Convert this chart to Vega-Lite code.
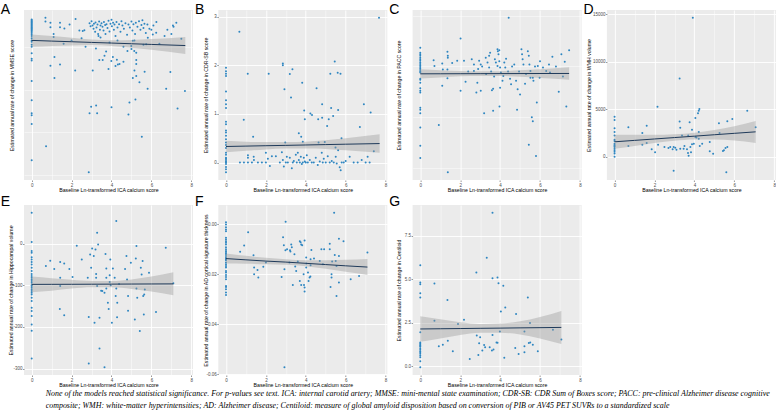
{
 "$schema": "https://vega.github.io/schema/vega-lite/v6.json",
 "padding": {"left": 0, "top": 3, "right": 0, "bottom": 0},
 "background": "white",
 "config": {
  "view": {"fill": "#EBEBEB", "stroke": null},
  "axis": {"domain": false, "grid": true, "gridColor": "#FFFFFF", "tickColor": "#333333", "tickSize": 1.5, "tickWidth": 0.5, "labelFont": "Liberation Sans", "labelFontSize": 4.5, "labelColor": "#4D4D4D", "labelPadding": 0.5, "titleFont": "Liberation Sans", "titleFontSize": 5.2, "titleFontWeight": "normal", "titleColor": "#000000", "labelFlush": false, "labelOverlap": false, "titlePadding": 1},
  "title": {"anchor": "start", "frame": "group", "font": "Liberation Sans", "fontSize": 14, "fontWeight": "normal", "color": "#000000", "offset": 0, "baseline": "alphabetic", "dx": -23.3, "dy": 8}
 },
 "title": {"text": ["None of the models reached statistical significance. For p-values see text. ICA: internal carotid artery; MMSE: mini-mental state examination; CDR-SB: CDR Sum of Boxes score; PACC: pre-clinical Alzheimer disease cognitive", "composite; WMH: white-matter hyperintensities; AD: Alzheimer disease; Centiloid: measure of global amyloid disposition based on conversion of PIB or AV45 PET SUVRs to a standardized scale"], "orient": "bottom", "anchor": "start", "frame": "bounds", "font": "Liberation Serif", "fontStyle": "italic", "fontSize": 7.95, "fontWeight": "normal", "color": "#000000", "lineHeight": 12, "baseline": "top", "offset": 2, "dx": 45, "dy": 0},
 "spacing": 2,
 "vconcat": [
  {"hconcat": [
   {"width": 169, "height": 170, "title": {"text": "A", "dy": 11},
    "encoding": {"x": {"field": "x", "type": "quantitative", "scale": {"domain": [-0.385, 8.085], "nice": false, "zero": false}, "axis": {"values": [0,1,2,3,4,5,6,7,8], "title": "Baseline Ln-transformed ICA calcium score", "labelExpr": "round(datum.value)%2==0 ? datum.label : ''", "gridWidth": {"condition": {"test": "round(datum.value)%2!=0", "value": 0.45}, "value": 0.9}, "tickOpacity": {"condition": {"test": "round(datum.value)%2!=0", "value": 0}, "value": 1}}}},
    "layer": [
     {"data": {"name": "a"}, "mark": {"type": "circle", "size": 4, "color": "#2E86C1", "opacity": 1}, "encoding": {"y": {"field": "y", "type": "quantitative", "scale": {"domain": [-3.61, 0.36], "nice": false, "zero": false}, "axis": {"values": [-3.5,-3,-2.5,-2,-1.5,-1,-0.5,0], "title": "Estimated annual rate of change in MMSE score", "minExtent": 8.8, "maxExtent": 8.8, "labelExpr": "round(datum.value*2)%2==0 ? replace(format(datum.value,'d'),'\u2212','-') : ''", "gridWidth": {"condition": {"test": "round(datum.value*2)%2!=0", "value": 0.45}, "value": 0.9}, "tickOpacity": {"condition": {"test": "round(datum.value*2)%2!=0", "value": 0}, "value": 1}}}}},
     {"data": {"name": "aB"}, "mark": {"type": "area", "color": "#999999", "opacity": 0.4, "interpolate": "monotone"}, "encoding": {"y": {"field": "lo", "type": "quantitative", "scale": {"domain": [-3.61, 0.36], "nice": false, "zero": false}}, "y2": {"field": "hi"}}},
     {"data": {"name": "aB"}, "mark": {"type": "line", "color": "#1F3A5A", "strokeWidth": 1, "interpolate": "monotone"}, "encoding": {"y": {"field": "fit", "type": "quantitative", "scale": {"domain": [-3.61, 0.36], "nice": false, "zero": false}}}}
    ]},
   {"width": 169, "height": 170, "title": {"text": "B", "dy": 11},
    "encoding": {"x": {"field": "x", "type": "quantitative", "scale": {"domain": [-0.385, 8.085], "nice": false, "zero": false}, "axis": {"values": [0,1,2,3,4,5,6,7,8], "title": "Baseline Ln-transformed ICA calcium score", "labelExpr": "round(datum.value)%2==0 ? datum.label : ''", "gridWidth": {"condition": {"test": "round(datum.value)%2!=0", "value": 0.45}, "value": 0.9}, "tickOpacity": {"condition": {"test": "round(datum.value)%2!=0", "value": 0}, "value": 1}}}},
    "layer": [
     {"data": {"name": "b"}, "mark": {"type": "circle", "size": 4, "color": "#2E86C1", "opacity": 1}, "encoding": {"y": {"field": "y", "type": "quantitative", "scale": {"domain": [-0.36, 3.14], "nice": false, "zero": false}, "axis": {"values": [0,0.5,1,1.5,2,2.5,3], "title": "Estimated annual rate of change in CDR-SB score", "minExtent": 8.8, "maxExtent": 8.8, "labelExpr": "round(datum.value*2)%2==0 ? format(datum.value,'d') : ''", "gridWidth": {"condition": {"test": "round(datum.value*2)%2!=0", "value": 0.45}, "value": 0.9}, "tickOpacity": {"condition": {"test": "round(datum.value*2)%2!=0", "value": 0}, "value": 1}}}}},
     {"data": {"name": "bB"}, "mark": {"type": "area", "color": "#999999", "opacity": 0.4, "interpolate": "monotone"}, "encoding": {"y": {"field": "lo", "type": "quantitative", "scale": {"domain": [-0.36, 3.14], "nice": false, "zero": false}}, "y2": {"field": "hi"}}},
     {"data": {"name": "bB"}, "mark": {"type": "line", "color": "#1F3A5A", "strokeWidth": 1, "interpolate": "monotone"}, "encoding": {"y": {"field": "fit", "type": "quantitative", "scale": {"domain": [-0.36, 3.14], "nice": false, "zero": false}}}}
    ]},
   {"width": 169, "height": 170, "title": {"text": "C", "dy": 11},
    "encoding": {"x": {"field": "x", "type": "quantitative", "scale": {"domain": [-0.385, 8.085], "nice": false, "zero": false}, "axis": {"values": [0,1,2,3,4,5,6,7,8], "title": "Baseline Ln-transformed ICA calcium score", "labelExpr": "round(datum.value)%2==0 ? datum.label : ''", "gridWidth": {"condition": {"test": "round(datum.value)%2!=0", "value": 0.45}, "value": 0.9}, "tickOpacity": {"condition": {"test": "round(datum.value)%2!=0", "value": 0}, "value": 1}}}},
    "layer": [
     {"data": {"name": "c"}, "mark": {"type": "circle", "size": 4, "color": "#2E86C1", "opacity": 1}, "encoding": {"y": {"field": "y", "type": "quantitative", "scale": {"domain": [-0.2733, 0.061], "nice": false, "zero": false}, "axis": {"values": [-0.25,-0.2,-0.15,-0.1,-0.05,0,0.05], "title": "Estimated annual rate of change in PACC score", "minExtent": 10.2, "maxExtent": 10.2, "labelExpr": "round(datum.value*20)%2==0 ? replace(format(datum.value,'.1f'),'\u2212','-') : ''", "gridWidth": {"condition": {"test": "round(datum.value*20)%2!=0", "value": 0.45}, "value": 0.9}, "tickOpacity": {"condition": {"test": "round(datum.value*20)%2!=0", "value": 0}, "value": 1}}}}},
     {"data": {"name": "cB"}, "mark": {"type": "area", "color": "#999999", "opacity": 0.4, "interpolate": "monotone"}, "encoding": {"y": {"field": "lo", "type": "quantitative", "scale": {"domain": [-0.2733, 0.061], "nice": false, "zero": false}}, "y2": {"field": "hi"}}},
     {"data": {"name": "cB"}, "mark": {"type": "line", "color": "#1F3A5A", "strokeWidth": 1, "interpolate": "monotone"}, "encoding": {"y": {"field": "fit", "type": "quantitative", "scale": {"domain": [-0.2733, 0.061], "nice": false, "zero": false}}}}
    ]},
   {"width": 169, "height": 170, "title": {"text": "D", "dy": 11},
    "encoding": {"x": {"field": "x", "type": "quantitative", "scale": {"domain": [-0.385, 8.085], "nice": false, "zero": false}, "axis": {"values": [0,1,2,3,4,5,6,7,8], "title": "Baseline Ln-transformed ICA calcium score", "labelExpr": "round(datum.value)%2==0 ? datum.label : ''", "gridWidth": {"condition": {"test": "round(datum.value)%2!=0", "value": 0.45}, "value": 0.9}, "tickOpacity": {"condition": {"test": "round(datum.value)%2!=0", "value": 0}, "value": 1}}}},
    "layer": [
     {"data": {"name": "d"}, "mark": {"type": "circle", "size": 4, "color": "#2E86C1", "opacity": 1}, "encoding": {"y": {"field": "y", "type": "quantitative", "scale": {"domain": [-2474, 15434], "nice": false, "zero": false}, "axis": {"values": [0,2500,5000,7500,10000,12500,15000], "title": "Estimated annual rate of change in WMH volume", "minExtent": 14.5, "maxExtent": 14.5, "labelExpr": "round(datum.value/2500)%2==0 ? format(datum.value,'d') : ''", "gridWidth": {"condition": {"test": "round(datum.value/2500)%2!=0", "value": 0.45}, "value": 0.9}, "tickOpacity": {"condition": {"test": "round(datum.value/2500)%2!=0", "value": 0}, "value": 1}}}}},
     {"data": {"name": "dB"}, "mark": {"type": "area", "color": "#999999", "opacity": 0.4, "interpolate": "monotone"}, "encoding": {"y": {"field": "lo", "type": "quantitative", "scale": {"domain": [-2474, 15434], "nice": false, "zero": false}}, "y2": {"field": "hi"}}},
     {"data": {"name": "dB"}, "mark": {"type": "line", "color": "#1F3A5A", "strokeWidth": 1, "interpolate": "monotone"}, "encoding": {"y": {"field": "fit", "type": "quantitative", "scale": {"domain": [-2474, 15434], "nice": false, "zero": false}}}}
    ]}
  ], "spacing": 25.3, "bounds": "flush"},
  {"hconcat": [
   {"width": 169, "height": 170, "title": {"text": "E"},
    "encoding": {"x": {"field": "x", "type": "quantitative", "scale": {"domain": [-0.385, 8.085], "nice": false, "zero": false}, "axis": {"values": [0,1,2,3,4,5,6,7,8], "title": "Baseline Ln-transformed ICA calcium score", "labelExpr": "round(datum.value)%2==0 ? datum.label : ''", "gridWidth": {"condition": {"test": "round(datum.value)%2!=0", "value": 0.45}, "value": 0.9}, "tickOpacity": {"condition": {"test": "round(datum.value)%2!=0", "value": 0}, "value": 1}}}},
    "layer": [
     {"data": {"name": "e"}, "mark": {"type": "circle", "size": 4, "color": "#2E86C1", "opacity": 1}, "encoding": {"y": {"field": "y", "type": "quantitative", "scale": {"domain": [-315.5, 92.5], "nice": false, "zero": false}, "axis": {"values": [-300,-250,-200,-150,-100,-50,0,50], "title": "Estimated annual rate of change in Hippocampal volume", "minExtent": 9.5, "maxExtent": 9.5, "labelExpr": "round(datum.value/50)%2==0 ? replace(format(datum.value,'d'),'\u2212','-') : ''", "gridWidth": {"condition": {"test": "round(datum.value/50)%2!=0", "value": 0.45}, "value": 0.9}, "tickOpacity": {"condition": {"test": "round(datum.value/50)%2!=0", "value": 0}, "value": 1}}}}},
     {"data": {"name": "eB"}, "mark": {"type": "area", "color": "#999999", "opacity": 0.4, "interpolate": "monotone"}, "encoding": {"y": {"field": "lo", "type": "quantitative", "scale": {"domain": [-315.5, 92.5], "nice": false, "zero": false}}, "y2": {"field": "hi"}}},
     {"data": {"name": "eB"}, "mark": {"type": "line", "color": "#1F3A5A", "strokeWidth": 1, "interpolate": "monotone"}, "encoding": {"y": {"field": "fit", "type": "quantitative", "scale": {"domain": [-315.5, 92.5], "nice": false, "zero": false}}}}
    ]},
   {"width": 169, "height": 170, "title": {"text": "F"},
    "encoding": {"x": {"field": "x", "type": "quantitative", "scale": {"domain": [-0.385, 8.085], "nice": false, "zero": false}, "axis": {"values": [0,1,2,3,4,5,6,7,8], "title": "Baseline Ln-transformed ICA calcium score", "labelExpr": "round(datum.value)%2==0 ? datum.label : ''", "gridWidth": {"condition": {"test": "round(datum.value)%2!=0", "value": 0.45}, "value": 0.9}, "tickOpacity": {"condition": {"test": "round(datum.value)%2!=0", "value": 0}, "value": 1}}}},
    "layer": [
     {"data": {"name": "f"}, "mark": {"type": "circle", "size": 4, "color": "#2E86C1", "opacity": 1}, "encoding": {"y": {"field": "y", "type": "quantitative", "scale": {"domain": [-0.0604, 0.0078], "nice": false, "zero": false}, "axis": {"values": [-0.06,-0.05,-0.04,-0.03,-0.02,-0.01,0], "title": "Estimated annual rate of change in AD cortical signature thickness", "minExtent": 9.1, "maxExtent": 9.1, "labelExpr": "round(datum.value*100)%2==0 ? replace(format(datum.value,'.2f'),'\u2212','-') : ''", "gridWidth": {"condition": {"test": "round(datum.value*100)%2!=0", "value": 0.45}, "value": 0.9}, "tickOpacity": {"condition": {"test": "round(datum.value*100)%2!=0", "value": 0}, "value": 1}}}}},
     {"data": {"name": "fB"}, "mark": {"type": "area", "color": "#999999", "opacity": 0.4, "interpolate": "monotone"}, "encoding": {"y": {"field": "lo", "type": "quantitative", "scale": {"domain": [-0.0604, 0.0078], "nice": false, "zero": false}}, "y2": {"field": "hi"}}},
     {"data": {"name": "fB"}, "mark": {"type": "line", "color": "#1F3A5A", "strokeWidth": 1, "interpolate": "monotone"}, "encoding": {"y": {"field": "fit", "type": "quantitative", "scale": {"domain": [-0.0604, 0.0078], "nice": false, "zero": false}}}}
    ]},
   {"width": 169, "height": 170, "title": {"text": "G"},
    "encoding": {"x": {"field": "x", "type": "quantitative", "scale": {"domain": [-0.385, 8.085], "nice": false, "zero": false}, "axis": {"values": [0,1,2,3,4,5,6,7,8], "title": "Baseline Ln-transformed ICA calcium score", "labelExpr": "round(datum.value)%2==0 ? datum.label : ''", "gridWidth": {"condition": {"test": "round(datum.value)%2!=0", "value": 0.45}, "value": 0.9}, "tickOpacity": {"condition": {"test": "round(datum.value)%2!=0", "value": 0}, "value": 1}}}},
    "layer": [
     {"data": {"name": "g"}, "mark": {"type": "circle", "size": 4, "color": "#2E86C1", "opacity": 1}, "encoding": {"y": {"field": "y", "type": "quantitative", "scale": {"domain": [-0.504, 9.264], "nice": false, "zero": false}, "axis": {"values": [0,1.25,2.5,3.75,5,6.25,7.5,8.75], "title": "Estimated annual rate of change in Centiloid", "minExtent": 10.2, "maxExtent": 10.2, "labelExpr": "round(datum.value/1.25)%2==0 ? format(datum.value,'.1f') : ''", "gridWidth": {"condition": {"test": "round(datum.value/1.25)%2!=0", "value": 0.45}, "value": 0.9}, "tickOpacity": {"condition": {"test": "round(datum.value/1.25)%2!=0", "value": 0}, "value": 1}}}}},
     {"data": {"name": "gB"}, "mark": {"type": "area", "color": "#999999", "opacity": 0.4, "interpolate": "monotone"}, "encoding": {"y": {"field": "lo", "type": "quantitative", "scale": {"domain": [-0.504, 9.264], "nice": false, "zero": false}}, "y2": {"field": "hi"}}},
     {"data": {"name": "gB"}, "mark": {"type": "line", "color": "#1F3A5A", "strokeWidth": 1, "interpolate": "monotone"}, "encoding": {"y": {"field": "fit", "type": "quantitative", "scale": {"domain": [-0.504, 9.264], "nice": false, "zero": false}}}}
    ]}
  ], "spacing": 25.3, "bounds": "flush"}
 ],
 "datasets": {
  "a": [{"x":0,"y":0.14},{"x":0,"y":0.12},{"x":0,"y":0.1},{"x":0,"y":0.08},{"x":0,"y":0.06},{"x":0,"y":0.04},{"x":0,"y":0.02},{"x":0,"y":0},{"x":0,"y":-0.02},{"x":0,"y":-0.04},{"x":0,"y":-0.06},{"x":0,"y":-0.08},{"x":0,"y":-0.1},{"x":0,"y":-0.12},{"x":0,"y":-0.15},{"x":0,"y":-0.18},{"x":0,"y":-0.21},{"x":0,"y":-0.25},{"x":0,"y":-0.3},{"x":0,"y":-0.35},{"x":0,"y":-0.38},{"x":0,"y":-0.45},{"x":0,"y":-0.5},{"x":0,"y":-0.65},{"x":0,"y":-0.78},{"x":0,"y":-0.82},{"x":0,"y":-1.3},{"x":0,"y":-1.75},{"x":0,"y":-2.05},{"x":0,"y":-2.1},{"x":0,"y":-2.3},{"x":0,"y":-3.15},
   {"x":0.69,"y":0.18},{"x":0.69,"y":0.09},{"x":0.94,"y":0.06},{"x":0.94,"y":-0.04},{"x":1.42,"y":0.06},{"x":1.42,"y":-0.04},{"x":1.64,"y":-0.07},{"x":2.2,"y":0.15},{"x":1.1,"y":-0.2},{"x":1.1,"y":-0.27},{"x":1.14,"y":-0.74},{"x":1.14,"y":-1.23},{"x":1.42,"y":-0.91},{"x":0.94,"y":-0.94},{"x":0.72,"y":-2.82},{"x":2.18,"y":-1.05},{"x":1.9,"y":0.02},{"x":2.0,"y":-0.35},{"x":1.6,"y":-0.43},{"x":2.39,"y":-0.12},{"x":2.56,"y":-0.13},{"x":2.64,"y":-0.11},
   {"x":2.9,"y":0.05},{"x":2.95,"y":-0.02},{"x":3.0,"y":0.1},{"x":3.05,"y":0.0},{"x":3.1,"y":-0.08},{"x":3.12,"y":0.04},{"x":3.18,"y":-0.15},{"x":3.2,"y":0.07},{"x":3.25,"y":-0.05},{"x":3.3,"y":0.02},{"x":3.33,"y":-0.2},{"x":3.38,"y":0.09},{"x":3.42,"y":-0.1},{"x":3.45,"y":0.0},{"x":3.5,"y":0.05},{"x":3.55,"y":-0.03},{"x":3.6,"y":-0.12},{"x":3.62,"y":0.08},{"x":3.68,"y":0.01},{"x":3.7,"y":-0.2},{"x":3.75,"y":0.03},{"x":3.8,"y":-0.06},{"x":3.85,"y":0.11},{"x":3.9,"y":-0.14},{"x":3.95,"y":0.04},{"x":4.0,"y":0.13},{"x":4.02,"y":-0.02},{"x":4.08,"y":0.06},{"x":4.12,"y":-0.1},{"x":4.15,"y":0.02},{"x":4.2,"y":-0.25},{"x":4.25,"y":0.08},{"x":4.3,"y":-0.05},{"x":4.38,"y":0.03},{"x":4.45,"y":-0.15},{"x":4.5,"y":0.1},{"x":4.55,"y":0.0},{"x":4.62,"y":-0.08},{"x":4.7,"y":0.05},{"x":4.78,"y":-0.22},{"x":4.85,"y":0.02},{"x":4.92,"y":-0.05},{"x":5.0,"y":0.09},{"x":5.05,"y":-0.12},{"x":5.1,"y":0.03},{"x":5.18,"y":-0.2},{"x":5.22,"y":0.06},{"x":5.3,"y":-0.03},{"x":5.38,"y":0.1},{"x":5.45,"y":-0.1},{"x":5.5,"y":0.01},{"x":5.55,"y":0.12},{"x":5.6,"y":-0.06},{"x":5.65,"y":0.04},{"x":5.72,"y":-0.18},{"x":5.8,"y":0.02},{"x":5.9,"y":-0.08},{"x":6.0,"y":-0.1},{"x":6.1,"y":0.0},{"x":6.25,"y":0.08},{"x":3.35,"y":-0.25},{"x":3.45,"y":-0.28},{"x":5.15,"y":-0.35},{"x":5.6,"y":-0.45},
   {"x":3.06,"y":-1.05},{"x":3.22,"y":-0.54},{"x":2.98,"y":-1.9},{"x":3.23,"y":-1.87},{"x":2.9,"y":-2.05},{"x":3.28,"y":-2.05},{"x":2.86,"y":-3.43},{"x":4.0,"y":-1.91},{"x":3.73,"y":-0.61},{"x":3.56,"y":-0.81},{"x":3.39,"y":-0.81},{"x":3.65,"y":-0.71},{"x":4.07,"y":-0.74},{"x":3.99,"y":-0.83},{"x":4.2,"y":-0.95},{"x":4.27,"y":-0.8},{"x":4.32,"y":-0.91},{"x":3.85,"y":-1.02},{"x":4.4,"y":-0.9},{"x":4.6,"y":-0.85},{"x":4.99,"y":-0.48},{"x":5.07,"y":-0.36},{"x":5.14,"y":-0.6},{"x":5.24,"y":-0.64},{"x":5.07,"y":-1.23},{"x":5.15,"y":-1.05},{"x":5.24,"y":-1.18},{"x":5.24,"y":-0.9},{"x":5.24,"y":-0.81},{"x":5.4,"y":-1.33},{"x":5.2,"y":-1.73},{"x":4.9,"y":-1.8},{"x":4.85,"y":-2.08},{"x":5.52,"y":-2.6},{"x":5.66,"y":-1.08},{"x":5.81,"y":-1.48},{"x":5.74,"y":-0.44},{"x":5.82,"y":-0.29},{"x":6.07,"y":-0.21},{"x":6.24,"y":-0.17},{"x":6.74,"y":-1.48},{"x":6.95,"y":-1.09},{"x":7.08,"y":0.0},{"x":7.11,"y":-0.03},{"x":7.25,"y":0.06},{"x":7.31,"y":-1.94},{"x":7.5,"y":-0.31},{"x":7.68,"y":-1.53},{"x":6.66,"y":-0.25},{"x":6.4,"y":-0.43},{"x":6.8,"y":-0.1},{"x":7.0,"y":-0.2},{"x":4.6,"y":-0.5},{"x":4.8,"y":-0.6},{"x":5.0,"y":-0.55},{"x":3.9,"y":-0.4},{"x":4.3,"y":-0.35},{"x":2.5,"y":-0.3},{"x":2.7,"y":-0.5}],
  "aB": [{"x":0,"fit":-0.35,"lo":-0.5,"hi":-0.21},{"x":1,"fit":-0.366,"lo":-0.48,"hi":-0.25},{"x":2,"fit":-0.381,"lo":-0.47,"hi":-0.29},{"x":3,"fit":-0.397,"lo":-0.46,"hi":-0.33},{"x":4,"fit":-0.412,"lo":-0.48,"hi":-0.345},{"x":5,"fit":-0.428,"lo":-0.52,"hi":-0.34},{"x":6,"fit":-0.444,"lo":-0.57,"hi":-0.32},{"x":7.7,"fit":-0.47,"lo":-0.67,"hi":-0.27}],
  "b": [{"x":0,"y":1.95},{"x":0,"y":1.88},{"x":0,"y":1.83},{"x":0,"y":1.78},{"x":0,"y":1.46},{"x":0,"y":1.28},{"x":0,"y":1.2},{"x":0,"y":1.12},{"x":0,"y":0.84},{"x":0,"y":0.79},{"x":0,"y":0.66},{"x":0,"y":0.62},{"x":0,"y":0.55},{"x":0,"y":0.48},{"x":0,"y":0.41},{"x":0,"y":0.36},{"x":0,"y":0.3},{"x":0,"y":0.2},{"x":0,"y":0.16},{"x":0,"y":0.1},{"x":0,"y":0.08},{"x":0,"y":0.05},{"x":0,"y":0.02},{"x":0,"y":0.0},{"x":0,"y":-0.03},{"x":0,"y":-0.09},{"x":0,"y":-0.14},{"x":0,"y":-0.2},
   {"x":0.67,"y":2.69},{"x":0.89,"y":0.88},{"x":1.09,"y":1.83},{"x":1.36,"y":0.53},{"x":2.14,"y":1.83},{"x":2.85,"y":2.04},{"x":2.85,"y":2.0},{"x":3.2,"y":1.82},{"x":3.33,"y":1.92},{"x":3.26,"y":1.34},{"x":2.93,"y":1.51},{"x":3.82,"y":1.64},{"x":3.92,"y":1.07},{"x":3.95,"y":0.89},{"x":4.23,"y":1.01},{"x":4.31,"y":0.98},{"x":4.54,"y":1.53},{"x":4.62,"y":0.89},{"x":4.82,"y":0.92},{"x":4.82,"y":1.2},{"x":5.07,"y":0.75},{"x":5.15,"y":0.89},{"x":5.27,"y":1.12},{"x":5.23,"y":1.83},{"x":5.45,"y":2.08},{"x":5.6,"y":1.85},{"x":5.74,"y":1.83},{"x":5.62,"y":1.08},{"x":5.37,"y":0.96},{"x":5.79,"y":0.5},{"x":6.71,"y":0.73},{"x":6.91,"y":1.2},{"x":7.25,"y":1.03},{"x":7.67,"y":2.98},{"x":7.41,"y":0.23},{"x":3.65,"y":0.6},{"x":3.77,"y":0.53},{"x":3.85,"y":0.43},{"x":2.97,"y":0.41},{"x":4.64,"y":0.41},{"x":4.95,"y":0.42},{"x":5.49,"y":0.31},{"x":5.62,"y":0.25},{"x":1.39,"y":0.12},{"x":1.1,"y":0.1},{"x":1.1,"y":0.15},
   {"x":0.7,"y":0.0},{"x":0.9,"y":0.0},{"x":1.1,"y":0.0},{"x":1.3,"y":0.0},{"x":1.4,"y":0.05},{"x":1.6,"y":0.0},{"x":1.8,"y":0.0},{"x":2.0,"y":0.2},{"x":2.0,"y":0.0},{"x":2.1,"y":0.08},{"x":2.2,"y":-0.07},{"x":2.3,"y":0.13},{"x":2.5,"y":0.13},{"x":2.7,"y":0.0},{"x":2.8,"y":0.21},{"x":2.85,"y":0.05},{"x":2.9,"y":-0.08},{"x":3.0,"y":0.0},{"x":3.05,"y":0.12},{"x":3.1,"y":0.0},{"x":3.2,"y":0.1},{"x":3.3,"y":-0.12},{"x":3.35,"y":0.0},{"x":3.4,"y":0.03},{"x":3.5,"y":0.16},{"x":3.55,"y":0.0},{"x":3.6,"y":0.2},{"x":3.65,"y":0.05},{"x":3.7,"y":0.0},{"x":3.75,"y":0.12},{"x":3.8,"y":-0.03},{"x":3.85,"y":0.0},{"x":3.9,"y":0.1},{"x":3.95,"y":0.02},{"x":4.0,"y":0.0},{"x":4.05,"y":0.15},{"x":4.1,"y":0.0},{"x":4.2,"y":0.05},{"x":4.3,"y":0.0},{"x":4.4,"y":0.0},{"x":4.5,"y":0.1},{"x":4.6,"y":-0.05},{"x":4.7,"y":0.02},{"x":4.8,"y":0.2},{"x":4.85,"y":0.0},{"x":4.9,"y":0.08},{"x":5.0,"y":0.0},{"x":5.1,"y":0.13},{"x":5.2,"y":0.0},{"x":5.3,"y":0.03},{"x":5.4,"y":0.0},{"x":5.5,"y":0.12},{"x":5.55,"y":-0.02},{"x":5.7,"y":-0.1},{"x":5.75,"y":-0.16},{"x":5.8,"y":0.0},{"x":5.9,"y":0.0},{"x":6.0,"y":0.03},{"x":6.2,"y":0.12},{"x":6.4,"y":0.0},{"x":6.6,"y":0.0},{"x":6.8,"y":0.05},{"x":7.0,"y":0.0},{"x":7.1,"y":0.12},{"x":7.2,"y":0.0}],
  "bB": [{"x":0,"fit":0.33,"lo":0.21,"hi":0.45},{"x":1,"fit":0.338,"lo":0.24,"hi":0.43},{"x":2,"fit":0.346,"lo":0.27,"hi":0.42},{"x":3,"fit":0.353,"lo":0.29,"hi":0.42},{"x":4,"fit":0.361,"lo":0.29,"hi":0.43},{"x":5,"fit":0.369,"lo":0.28,"hi":0.46},{"x":6,"fit":0.377,"lo":0.25,"hi":0.5},{"x":7.7,"fit":0.39,"lo":0.2,"hi":0.58}],
  "c": [{"x":0,"y":-0.013},{"x":0,"y":-0.023},{"x":0,"y":-0.026},{"x":0,"y":-0.029},{"x":0,"y":-0.033},{"x":0,"y":-0.036},{"x":0,"y":-0.039},{"x":0,"y":-0.042},{"x":0,"y":-0.045},{"x":0,"y":-0.048},{"x":0,"y":-0.051},{"x":0,"y":-0.054},{"x":0,"y":-0.057},{"x":0,"y":-0.06},{"x":0,"y":-0.062},{"x":0,"y":-0.074},{"x":0,"y":-0.076},{"x":0,"y":-0.082},{"x":0,"y":-0.093},{"x":0,"y":-0.098},{"x":0,"y":-0.101},{"x":0,"y":-0.131},{"x":0,"y":-0.135},{"x":0,"y":-0.142},{"x":0,"y":-0.17},{"x":0,"y":-0.206},{"x":0,"y":-0.23},
   {"x":0.67,"y":-0.038},{"x":0.71,"y":-0.049},{"x":0.93,"y":-0.165},{"x":1.1,"y":-0.044},{"x":1.13,"y":-0.056},{"x":1.1,"y":-0.088},{"x":1.36,"y":-0.021},{"x":1.38,"y":-0.029},{"x":1.38,"y":-0.033},{"x":1.36,"y":-0.056},{"x":1.36,"y":-0.073},{"x":1.38,"y":-0.258},{"x":1.6,"y":-0.043},{"x":1.85,"y":-0.039},{"x":2.02,"y":0.005},{"x":2.02,"y":-0.098},{"x":2.19,"y":-0.039},{"x":2.27,"y":-0.08},{"x":2.58,"y":-0.036},{"x":2.69,"y":-0.059},{"x":2.69,"y":-0.046},{"x":2.86,"y":-0.082},{"x":2.81,"y":-0.101},{"x":2.95,"y":-0.039},{"x":3.03,"y":-0.046},{"x":3.03,"y":-0.098},{"x":3.2,"y":-0.142},{"x":3.28,"y":-0.033},{"x":3.37,"y":-0.042},{"x":3.45,"y":-0.052},{"x":3.45,"y":-0.029},{"x":3.5,"y":-0.023},{"x":3.59,"y":-0.097},{"x":3.65,"y":-0.094},{"x":3.65,"y":-0.137},{"x":3.74,"y":-0.036},{"x":3.79,"y":-0.042},{"x":3.87,"y":-0.049},{"x":3.87,"y":-0.016},{"x":3.89,"y":-0.02},{"x":3.92,"y":-0.026},{"x":3.96,"y":-0.04},{"x":4.0,"y":-0.052},{"x":4.04,"y":-0.062},{"x":3.97,"y":-0.129},{"x":3.96,"y":-0.018},{"x":4.0,"y":-0.092},{"x":4.12,"y":-0.078},{"x":4.16,"y":-0.069},{"x":4.21,"y":-0.042},{"x":4.26,"y":-0.052},{"x":4.43,"y":0.046},{"x":4.5,"y":-0.074},{"x":4.55,"y":-0.085},{"x":4.71,"y":-0.046},{"x":4.8,"y":-0.078},{"x":4.85,"y":-0.135},{"x":4.88,"y":-0.095},{"x":5.0,"y":-0.105},{"x":5.07,"y":-0.016},{"x":5.1,"y":-0.026},{"x":5.13,"y":-0.036},{"x":5.17,"y":-0.046},{"x":5.25,"y":-0.084},{"x":5.39,"y":-0.02},{"x":5.44,"y":-0.029},{"x":5.47,"y":-0.046},{"x":5.52,"y":-0.059},{"x":5.52,"y":-0.072},{"x":5.59,"y":-0.15},{"x":5.64,"y":-0.158},{"x":5.44,"y":-0.204},{"x":5.8,"y":-0.226},{"x":5.84,"y":-0.121},{"x":5.64,"y":-0.072},{"x":5.67,"y":-0.078},{"x":5.89,"y":-0.049},{"x":5.98,"y":-0.072},{"x":6.15,"y":-0.052},{"x":6.31,"y":-0.059},{"x":6.45,"y":-0.046},{"x":6.62,"y":-0.031},{"x":6.94,"y":-0.1},{"x":7.07,"y":-0.026},{"x":7.24,"y":-0.041},{"x":7.15,"y":-0.07},{"x":7.32,"y":-0.129},{"x":7.46,"y":-0.018},{"x":2.4,"y":-0.06},{"x":2.9,"y":-0.055},{"x":3.1,"y":-0.05},{"x":3.3,"y":-0.065},{"x":3.55,"y":-0.06},{"x":3.7,"y":-0.07},{"x":4.3,"y":-0.035},{"x":4.4,"y":-0.06},{"x":4.6,"y":-0.05},{"x":4.95,"y":-0.06},{"x":5.3,"y":-0.065},{"x":5.75,"y":-0.05},{"x":6.0,"y":-0.04},{"x":6.5,"y":-0.062},{"x":6.8,"y":-0.05}],
  "cB": [{"x":0,"fit":-0.0645,"lo":-0.0735,"hi":-0.0555},{"x":1,"fit":-0.0644,"lo":-0.0715,"hi":-0.0573},{"x":2,"fit":-0.0643,"lo":-0.0695,"hi":-0.059},{"x":3,"fit":-0.0642,"lo":-0.069,"hi":-0.0595},{"x":4,"fit":-0.0641,"lo":-0.069,"hi":-0.0592},{"x":5,"fit":-0.064,"lo":-0.0705,"hi":-0.0575},{"x":6,"fit":-0.0639,"lo":-0.0725,"hi":-0.0553},{"x":7.46,"fit":-0.0638,"lo":-0.076,"hi":-0.0516}],
  "d": [{"x":0,"y":4200},{"x":0,"y":3850},{"x":0,"y":2990},{"x":0,"y":2570},{"x":0,"y":2220},{"x":0,"y":1770},{"x":0,"y":1630},{"x":0,"y":1350},{"x":0,"y":1200},{"x":0,"y":1100},{"x":0,"y":1010},{"x":0,"y":830},{"x":0,"y":660},{"x":0,"y":490},{"x":0,"y":310},{"x":0,"y":-35},
   {"x":0.69,"y":3090},{"x":0.69,"y":1110},{"x":1.39,"y":2470},{"x":1.39,"y":1250},{"x":1.61,"y":3230},{"x":1.61,"y":1420},{"x":1.86,"y":760},{"x":2.03,"y":450},{"x":2.15,"y":5240},{"x":2.18,"y":1250},{"x":2.5,"y":1000},{"x":2.79,"y":1000},{"x":2.91,"y":760},{"x":2.96,"y":1000},{"x":3.04,"y":930},{"x":2.96,"y":-1490},{"x":3.26,"y":8230},{"x":3.26,"y":3680},{"x":3.29,"y":3020},{"x":3.29,"y":830},{"x":3.38,"y":2220},{"x":3.46,"y":830},{"x":3.63,"y":760},{"x":3.69,"y":2220},{"x":3.76,"y":3610},{"x":3.68,"y":380},{"x":3.71,"y":70},{"x":3.88,"y":2810},{"x":3.92,"y":14620},{"x":3.8,"y":1000},{"x":3.83,"y":450},{"x":3.88,"y":1280},{"x":4.05,"y":4060},{"x":4.05,"y":2050},{"x":3.97,"y":1350},{"x":4.18,"y":4550},{"x":4.22,"y":4830},{"x":4.25,"y":5000},{"x":4.22,"y":2570},{"x":4.22,"y":1880},{"x":4.27,"y":1110},{"x":4.39,"y":1350},{"x":4.77,"y":560},{"x":4.77,"y":1530},{"x":4.94,"y":280},{"x":5.23,"y":3500},{"x":5.26,"y":2470},{"x":5.43,"y":590},{"x":5.48,"y":660},{"x":5.56,"y":900},{"x":5.65,"y":1000},{"x":5.65,"y":3720},{"x":5.9,"y":3960},{"x":5.6,"y":-1660},{"x":6.65,"y":4830},{"x":7.07,"y":3090},{"x":3.1,"y":700},{"x":3.5,"y":1100},{"x":4.1,"y":2000},{"x":2.7,"y":900}],
  "dB": [{"x":0,"fit":1550,"lo":820,"hi":2300},{"x":1,"fit":1699,"lo":1120,"hi":2280},{"x":2,"fit":1847,"lo":1420,"hi":2280},{"x":3,"fit":1996,"lo":1650,"hi":2340},{"x":4,"fit":2144,"lo":1780,"hi":2510},{"x":5,"fit":2293,"lo":1780,"hi":2800},{"x":6,"fit":2441,"lo":1700,"hi":3180},{"x":7.07,"fit":2600,"lo":1430,"hi":3740}],
  "e": [{"x":0,"y":74},{"x":0,"y":4},{"x":0,"y":-18},{"x":0,"y":-22},{"x":0,"y":-33},{"x":0,"y":-38},{"x":0,"y":-44},{"x":0,"y":-50},{"x":0,"y":-58},{"x":0,"y":-66},{"x":0,"y":-73},{"x":0,"y":-78},{"x":0,"y":-82},{"x":0,"y":-86},{"x":0,"y":-90},{"x":0,"y":-94},{"x":0,"y":-100},{"x":0,"y":-102},{"x":0,"y":-106},{"x":0,"y":-110},{"x":0,"y":-114},{"x":0,"y":-118},{"x":0,"y":-122},{"x":0,"y":-130},{"x":0,"y":-138},{"x":0,"y":-154},{"x":0,"y":-162},{"x":0,"y":-174},{"x":0,"y":-194},{"x":0,"y":-209},{"x":0,"y":-276},
   {"x":0.71,"y":-54},{"x":0.93,"y":-41},{"x":1.13,"y":-61},{"x":1.43,"y":-44},{"x":1.43,"y":-82},{"x":1.43,"y":-102},{"x":1.41,"y":-157},{"x":1.63,"y":-48},{"x":1.63,"y":-172},{"x":1.89,"y":-61},{"x":2.05,"y":-80},{"x":2.26,"y":-5},{"x":2.51,"y":-38},{"x":2.81,"y":-82},{"x":2.86,"y":-176},{"x":2.86,"y":-288},{"x":2.93,"y":-26},{"x":2.98,"y":-58},{"x":3.03,"y":-12},{"x":3.11,"y":-30},{"x":3.15,"y":-190},{"x":3.2,"y":-14},{"x":3.23,"y":-73},{"x":3.23,"y":-82},{"x":3.28,"y":-102},{"x":3.28,"y":26},{"x":3.33,"y":-2},{"x":3.4,"y":-178},{"x":3.4,"y":-252},{"x":3.48,"y":-113},{"x":3.54,"y":-114},{"x":3.65,"y":-118},{"x":3.65,"y":-297},{"x":3.7,"y":-25},{"x":3.74,"y":-60},{"x":3.74,"y":-82},{"x":3.74,"y":-108},{"x":3.82,"y":-142},{"x":3.86,"y":-157},{"x":3.91,"y":-76},{"x":3.91,"y":-92},{"x":3.94,"y":-38},{"x":3.96,"y":-100},{"x":4.02,"y":-190},{"x":4.07,"y":-60},{"x":4.16,"y":-82},{"x":4.21,"y":-126},{"x":4.24,"y":54},{"x":4.24,"y":-108},{"x":4.28,"y":-177},{"x":4.29,"y":-142},{"x":4.38,"y":-97},{"x":4.68,"y":-61},{"x":4.75,"y":-30},{"x":4.78,"y":-86},{"x":4.83,"y":-126},{"x":4.83,"y":-161},{"x":4.97,"y":-46},{"x":5.17,"y":-182},{"x":5.22,"y":-36},{"x":5.25,"y":-6},{"x":5.25,"y":-108},{"x":5.29,"y":-130},{"x":5.42,"y":-210},{"x":5.47,"y":-58},{"x":5.51,"y":-74},{"x":5.56,"y":-42},{"x":5.59,"y":-126},{"x":5.62,"y":-170},{"x":5.64,"y":-122},{"x":5.67,"y":-110},{"x":5.88,"y":-70},{"x":6.23,"y":-164},{"x":6.72,"y":-10},{"x":7.1,"y":-95}],
  "eB": [{"x":0,"fit":-98,"lo":-117,"hi":-79},{"x":1,"fit":-97.9,"lo":-113,"hi":-83},{"x":2,"fit":-97.8,"lo":-108,"hi":-87},{"x":3,"fit":-97.6,"lo":-105,"hi":-90},{"x":4,"fit":-97.4,"lo":-105,"hi":-90},{"x":5,"fit":-97.2,"lo":-109,"hi":-86},{"x":6,"fit":-97,"lo":-115,"hi":-79},{"x":7.1,"fit":-96.8,"lo":-124,"hi":-69}],
  "f": [{"x":0,"y":0.0009},{"x":0,"y":0},{"x":0,"y":-0.0011},{"x":0,"y":-0.002},{"x":0,"y":-0.0027},{"x":0,"y":-0.0053},{"x":0,"y":-0.006},{"x":0,"y":-0.0067},{"x":0,"y":-0.0073},{"x":0,"y":-0.008},{"x":0,"y":-0.0091},{"x":0,"y":-0.01},{"x":0,"y":-0.0107},{"x":0,"y":-0.0111},{"x":0,"y":-0.0117},{"x":0,"y":-0.0123},{"x":0,"y":-0.0131},{"x":0,"y":-0.0136},{"x":0,"y":-0.014},{"x":0,"y":-0.0144},{"x":0,"y":-0.0153},{"x":0,"y":-0.016},{"x":0,"y":-0.0167},{"x":0,"y":-0.0173},{"x":0,"y":-0.0187},{"x":0,"y":-0.0193},{"x":0,"y":-0.0203},{"x":0,"y":-0.0211},{"x":0,"y":-0.022},{"x":0,"y":-0.0247},{"x":0,"y":-0.0251},{"x":0,"y":-0.026},{"x":0,"y":-0.0273},{"x":0,"y":-0.0283},
   {"x":0.71,"y":-0.011},{"x":0.91,"y":-0.0084},{"x":1.11,"y":-0.0031},{"x":1.38,"y":-0.0124},{"x":1.41,"y":-0.0173},{"x":1.41,"y":-0.02},{"x":1.58,"y":-0.0183},{"x":1.62,"y":-0.0213},{"x":1.87,"y":-0.017},{"x":2.0,"y":-0.0153},{"x":2.79,"y":-0.0211},{"x":2.86,"y":-0.0051},{"x":2.9,"y":-0.0083},{"x":2.93,"y":-0.018},{"x":2.98,"y":-0.0104},{"x":2.99,"y":0.0011},{"x":3.06,"y":-0.01},{"x":3.18,"y":-0.0153},{"x":3.21,"y":-0.0104},{"x":3.23,"y":-0.0109},{"x":3.27,"y":-0.008},{"x":3.3,"y":-0.0091},{"x":3.35,"y":-0.0243},{"x":3.43,"y":-0.012},{"x":3.47,"y":-0.0169},{"x":3.52,"y":-0.0187},{"x":3.6,"y":-0.0149},{"x":3.7,"y":-0.0067},{"x":3.74,"y":-0.0071},{"x":3.77,"y":-0.008},{"x":3.7,"y":-0.0227},{"x":3.77,"y":-0.0243},{"x":3.82,"y":-0.0083},{"x":3.89,"y":-0.02},{"x":3.91,"y":-0.0243},{"x":3.94,"y":-0.0064},{"x":3.94,"y":-0.0253},{"x":3.94,"y":-0.0269},{"x":4.02,"y":-0.0133},{"x":4.02,"y":-0.0157},{"x":4.02,"y":-0.0173},{"x":4.11,"y":-0.0193},{"x":4.14,"y":-0.0227},{"x":4.19,"y":-0.0213},{"x":4.23,"y":-0.0209},{"x":4.24,"y":-0.0164},{"x":4.24,"y":-0.014},{"x":4.28,"y":-0.0103},{"x":2.93,"y":-0.0573},{"x":4.41,"y":-0.0137},{"x":4.7,"y":-0.0147},{"x":4.78,"y":-0.01},{"x":4.92,"y":-0.01},{"x":4.86,"y":-0.016},{"x":5.2,"y":-0.0077},{"x":5.2,"y":-0.01},{"x":5.24,"y":-0.0251},{"x":5.29,"y":-0.0213},{"x":5.29,"y":-0.02},{"x":5.32,"y":-0.0149},{"x":5.42,"y":0.0047},{"x":5.45,"y":-0.0123},{"x":5.5,"y":-0.0147},{"x":5.54,"y":-0.0167},{"x":5.54,"y":-0.0287},{"x":5.66,"y":-0.0057},{"x":5.66,"y":-0.0127},{"x":5.66,"y":-0.0233},{"x":5.89,"y":-0.0067},{"x":6.25,"y":-0.022},{"x":6.67,"y":-0.0207},{"x":7.09,"y":-0.0113}],
  "fB": [{"x":0,"fit":-0.0137,"lo":-0.0157,"hi":-0.0117},{"x":1,"fit":-0.0142,"lo":-0.0158,"hi":-0.0126},{"x":2,"fit":-0.0147,"lo":-0.016,"hi":-0.0134},{"x":3,"fit":-0.0151,"lo":-0.0162,"hi":-0.014},{"x":4,"fit":-0.0156,"lo":-0.0168,"hi":-0.0144},{"x":5,"fit":-0.0161,"lo":-0.0178,"hi":-0.0144},{"x":6,"fit":-0.0166,"lo":-0.019,"hi":-0.0142},{"x":7.09,"fit":-0.0171,"lo":-0.0203,"hi":-0.0139}],
  "g": [{"x":0,"y":5.8},{"x":0,"y":4.81},{"x":0,"y":4.71},{"x":0,"y":4.2},{"x":0,"y":3.95},{"x":0,"y":1.95},{"x":0,"y":1.37},{"x":0,"y":1.3},{"x":0,"y":1.24},{"x":0,"y":1.18},{"x":0,"y":1.13},{"x":0,"y":1.03},{"x":0,"y":0.94},{"x":0,"y":0.86},{"x":0,"y":0.8},{"x":0,"y":0.71},{"x":0,"y":0.61},{"x":0,"y":0.52},{"x":0,"y":0.29},{"x":0,"y":-0.06},
   {"x":0.71,"y":4.75},{"x":0.71,"y":2.61},{"x":0.93,"y":1.15},{"x":1.13,"y":1.24},{"x":1.36,"y":3.8},{"x":1.38,"y":1.47},{"x":1.63,"y":0.86},{"x":1.89,"y":2.42},{"x":2.19,"y":2.67},{"x":2.48,"y":0.42},{"x":2.81,"y":5.38},{"x":2.83,"y":1.76},{"x":2.91,"y":0.65},{"x":2.95,"y":1.32},{"x":3.0,"y":1.66},{"x":3.11,"y":0.9},{"x":3.2,"y":1.22},{"x":3.25,"y":1.09},{"x":3.33,"y":6.24},{"x":3.48,"y":1.09},{"x":3.59,"y":0.9},{"x":3.62,"y":5.06},{"x":3.62,"y":8.82},{"x":3.62,"y":1.79},{"x":3.67,"y":0.96},{"x":3.82,"y":1.37},{"x":3.87,"y":1.35},{"x":3.87,"y":5.1},{"x":3.92,"y":4.77},{"x":4.04,"y":3.15},{"x":3.99,"y":2.0},{"x":4.16,"y":4.62},{"x":4.21,"y":0.48},{"x":4.26,"y":3.38},{"x":4.76,"y":1.05},{"x":4.8,"y":3.0},{"x":4.93,"y":0.7},{"x":5.22,"y":2.0},{"x":5.22,"y":1.15},{"x":5.22,"y":0.8},{"x":5.39,"y":3.95},{"x":5.44,"y":1.34},{"x":5.51,"y":1.36},{"x":5.5,"y":2.48},{"x":5.64,"y":1.24},{"x":5.89,"y":0.86},{"x":6.65,"y":2.1},{"x":7.07,"y":1.53}],
  "gB": [{"x":0,"fit":2.14,"lo":1.41,"hi":2.87},{"x":1,"fit":2.153,"lo":1.6,"hi":2.7},{"x":2,"fit":2.165,"lo":1.8,"hi":2.53},{"x":3,"fit":2.178,"lo":1.93,"hi":2.43},{"x":4,"fit":2.19,"lo":1.93,"hi":2.45},{"x":5,"fit":2.204,"lo":1.83,"hi":2.58},{"x":6,"fit":2.216,"lo":1.6,"hi":2.83},{"x":7.07,"fit":2.23,"lo":1.28,"hi":3.18}]
 }
}
